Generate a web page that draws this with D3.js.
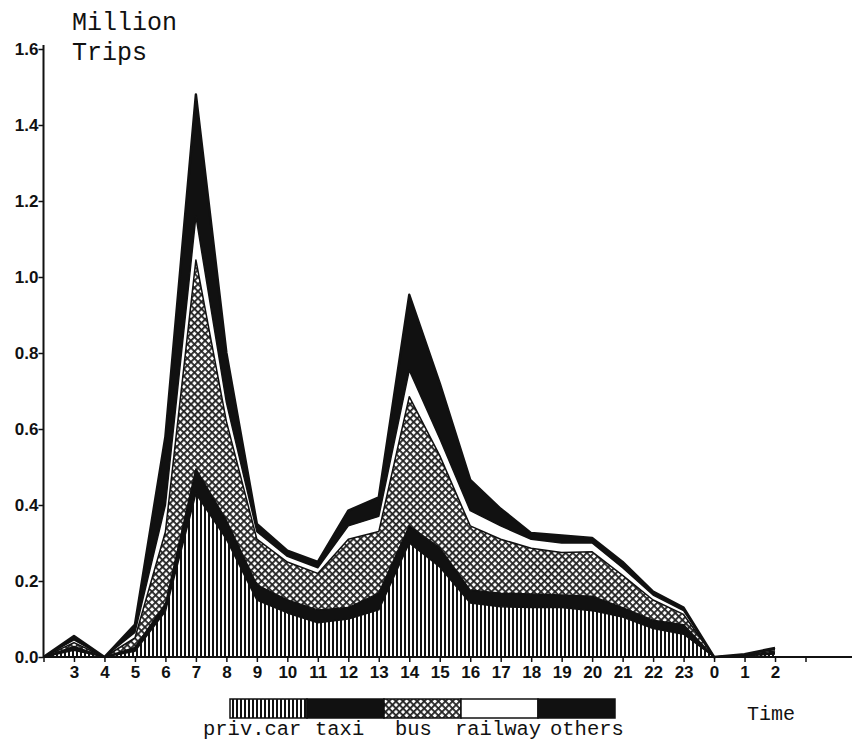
<!DOCTYPE html>
<html>
<head>
<meta charset="utf-8">
<script src="https://cdn.jsdelivr.net/npm/d3@7"></script>
<style>
  body { margin: 0; background: #fff; }
  svg { display: block; }
  .mono { font-family: "Liberation Mono", "DejaVu Sans Mono", monospace; fill: #111; }
</style>
</head>
<body>
<script>
// Hour labels along the x axis (index 0 = 2 o'clock at the origin, last tick unlabeled)
var hourLabels = ["", "3", "4", "5", "6", "7", "8", "9", "10", "11", "12", "13", "14", "15", "16",
                  "17", "18", "19", "20", "21", "22", "23", "0", "1", "2", ""];

// Trips per mode, million, one value per hour (index 0..24)
var car     = [0, .018, 0, .015, .12, .43, .31, .15, .116, .09, .10, .124, .30, .237, .142, .132, .13, .13, .122, .105, .075, .06, 0, .003, .008];
var taxi    = [0, .010, 0, .010, .02, .065, .05, .04, .034, .034, .03, .044, .045, .05, .034, .036, .036, .033, .038, .025, .022, .025, 0, .001, .004];
var bus     = [0, .010, 0, .025, .19, .55, .26, .12, .10, .096, .18, .162, .34, .243, .169, .142, .12, .112, .117, .085, .053, .027, 0, .001, .004];
var railway = [0, .007, 0, .015, .07, .115, .05, .02, .015, .015, .035, .04, .07, .045, .04, .035, .024, .025, .023, .02, .013, .01, 0, .001, .004];
var others  = [0, .010, 0, .02, .18, .32, .13, .02, .015, .015, .04, .05, .198, .145, .081, .045, .016, .02, .013, .015, .009, .008, 0, .001, .004];

var modeKeys = ["car", "taxi", "bus", "railway", "others"];
var legendLabels = ["priv.car", "taxi", "bus", "railway", "others"];
var yTicks = [0, 0.2, 0.4, 0.6, 0.8, 1.0, 1.2, 1.4, 1.6];

(function(){
    var width = 854, height = 750;

    var svg = d3.select("body").append("svg")
        .attr("width", width)
        .attr("height", height);

    // fill patterns
    var defs = svg.append("defs");
    var hatch = defs.append("pattern")
        .attr("id", "hatch")
        .attr("patternUnits", "userSpaceOnUse")
        .attr("width", 4).attr("height", 4);
    hatch.append("rect").attr("width", 4).attr("height", 4).attr("fill", "#fff");
    hatch.append("rect").attr("width", 2).attr("height", 4).attr("fill", "#111");

    var dots = defs.append("pattern")
        .attr("id", "dots")
        .attr("patternUnits", "userSpaceOnUse")
        .attr("width", 5).attr("height", 5)
        .attr("patternTransform", "rotate(45)");
    dots.append("rect").attr("width", 5).attr("height", 5).attr("fill", "#fff");
    dots.append("rect").attr("width", 5).attr("height", 1.8).attr("fill", "#222");
    dots.append("rect").attr("width", 1.8).attr("height", 5).attr("fill", "#222");

    var fills = { car: "url(#hatch)", taxi: "#111", bus: "url(#dots)", railway: "#fff", others: "#111" };

    // scales
    var x = d3.scaleLinear().domain([0, 25]).range([43.5, 805.5]);
    var y = d3.scaleLinear().domain([0, 1.6]).range([657, 49]);

    // build table for the stack
    var table = car.map(function(v, i){
        return { car: car[i], taxi: taxi[i], bus: bus[i], railway: railway[i], others: others[i] };
    });
    var series = d3.stack().keys(modeKeys)(table);

    var area = d3.area()
        .x(function(d, i){ return x(i); })
        .y0(function(d){ return y(d[0]); })
        .y1(function(d){ return y(d[1]); });

    var topLine = d3.line()
        .x(function(d, i){ return x(i); })
        .y(function(d){ return y(d[1]); });

    svg.selectAll(".layer")
        .data(series)
        .enter()
        .append("path")
        .attr("class", "layer")
        .attr("d", area)
        .attr("fill", function(d){ return fills[d.key]; });

    // outlines on top of the fills
    svg.selectAll(".edge")
        .data(series)
        .enter()
        .append("path")
        .attr("class", "edge")
        .attr("d", topLine)
        .attr("fill", "none")
        .attr("stroke", "#111")
        .attr("stroke-width", function(d){ return d.key == "others" ? 2.5 : 1.5; })
        .attr("stroke-linejoin", "round");

    // y axis (font set after .call, the axis writes its own defaults)
    var yAxis = d3.axisLeft(y)
        .tickValues(yTicks)
        .tickFormat(d3.format(".1f"))
        .tickSize(5)
        .tickSizeOuter(0);
    var gy = svg.append("g")
        .attr("transform", "translate(43.5,0)")
        .call(yAxis)
        .attr("font-family", "'Liberation Sans', Arial, sans-serif")
        .attr("font-size", 17)
        .attr("font-weight", "bold");
    gy.select(".domain").attr("stroke", "#111").attr("stroke-width", 2)
        .attr("d", "M0,657V45");
    gy.selectAll(".tick line").attr("stroke", "#111").attr("stroke-width", 1.5);
    gy.selectAll(".tick text").attr("x", -5).attr("dy", "0.35em").attr("fill", "#111");

    // x axis
    var xAxis = d3.axisBottom(x)
        .tickValues(d3.range(hourLabels.length))
        .tickFormat(function(i){ return hourLabels[i]; })
        .tickSize(5)
        .tickSizeOuter(0);
    var gx = svg.append("g")
        .attr("transform", "translate(0,657)")
        .call(xAxis)
        .attr("font-family", "'Liberation Sans', Arial, sans-serif")
        .attr("font-size", 17)
        .attr("font-weight", "bold");
    gx.select(".domain").attr("stroke", "#111").attr("stroke-width", 2)
        .attr("d", "M43.5,0H852");
    gx.selectAll(".tick line").attr("stroke", "#111").attr("stroke-width", 1.5);
    gx.selectAll(".tick text").attr("y", 9).attr("dy", "0.71em").attr("fill", "#111");

    // axis titles
    svg.append("text").attr("class", "mono").attr("x", 72).attr("y", 30)
        .attr("font-size", 25).text("Million");
    svg.append("text").attr("class", "mono").attr("x", 72).attr("y", 60)
        .attr("font-size", 25).text("Trips");
    svg.append("text").attr("class", "mono").attr("x", 747).attr("y", 720)
        .attr("font-size", 20).text("Time");

    // legend bar
    var legendX = d3.scaleBand().domain(modeKeys).range([230, 615]);
    var legend = svg.append("g");
    legend.selectAll("rect")
        .data(modeKeys)
        .enter()
        .append("rect")
        .attr("x", function(d){ return legendX(d); })
        .attr("y", 699)
        .attr("width", legendX.bandwidth())
        .attr("height", 19)
        .attr("fill", function(d){ return fills[d]; })
        .attr("stroke", "#111")
        .attr("stroke-width", 1.5);

    var labelX = [203, 315, 395, 455, 550];
    legend.selectAll("text")
        .data(legendLabels)
        .enter()
        .append("text")
        .attr("class", "mono")
        .attr("x", function(d, i){ return labelX[i]; })
        .attr("y", 735)
        .attr("font-size", 20.5)
        .text(function(d){ return d; });
})();
</script>
</body>
</html>
